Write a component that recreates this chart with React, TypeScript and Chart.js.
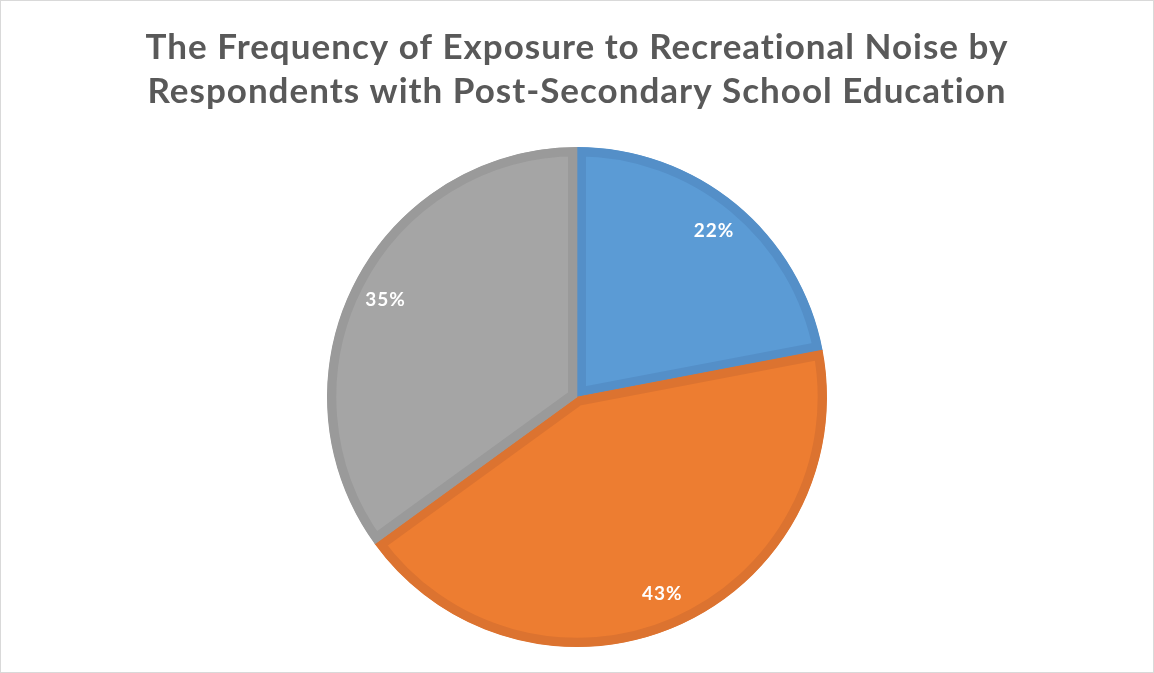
import React, { useEffect, useRef } from "react";
import { Chart, registerables } from "chart.js";

Chart.register(...registerables);

const titleLines = [
  "The Frequency of Exposure to Recreational Noise by",
  "Respondents with Post-Secondary School Education",
];
const categories = ["Often", "Sometimes", "Rarely"];
const values = [22, 43, 35];
const fillColors = ["#5b9bd5", "#ed7d31", "#a5a5a5"];
const borderColors = ["#548fc8", "#dc7330", "#9a9a9a"];

const titlePlugin = {
  id: "customTitle",
  afterDraw(chart: any) {
    const ctx = chart.ctx;
    ctx.save();
    ctx.fillStyle = "#595959";
    ctx.font = "bold 35px Lato";
    try {
      (ctx as any).letterSpacing = "1px";
    } catch (e) {}
    ctx.textAlign = "center";
    ctx.textBaseline = "alphabetic";
    const cx = chart.width / 2;
    titleLines.forEach((line, i) => {
      ctx.fillText(line, cx, 59 + i * 43.5);
    });
    ctx.restore();
  },
};

const labelPlugin = {
  id: "sliceLabels",
  afterDatasetsDraw(chart: any) {
    const ctx = chart.ctx;
    const meta = chart.getDatasetMeta(0);
    const data = chart.data.datasets[0].data as number[];
    const total = data.reduce((a, b) => a + b, 0);
    ctx.save();
    ctx.fillStyle = "#ffffff";
    ctx.font = "bold 19px Lato";
    try {
      (ctx as any).letterSpacing = "1px";
    } catch (e) {}
    ctx.textAlign = "center";
    ctx.textBaseline = "middle";
    meta.data.forEach((arc: any, i: number) => {
      const p = arc.getProps(["x", "y", "startAngle", "endAngle", "outerRadius"], true);
      const mid = (p.startAngle + p.endAngle) / 2;
      const r = p.outerRadius * 0.86;
      const x = p.x + Math.cos(mid) * r;
      const y = p.y + Math.sin(mid) * r;
      ctx.fillText(Math.round((data[i] / total) * 100) + "%", x, y);
    });
    ctx.restore();
  },
};

export default function App() {
  const ref = useRef<HTMLCanvasElement>(null);
  useEffect(() => {
    if (!ref.current) return;
    const chart = new Chart(ref.current, {
      type: "pie",
      data: {
        labels: categories,
        datasets: [
          {
            data: values,
            backgroundColor: fillColors,
            borderColor: borderColors,
            borderWidth: 9,
            borderAlign: "inner",
          } as any,
        ],
      },
      options: {
        responsive: false,
        animation: false,
        layout: { padding: { top: 147, bottom: 26 } },
        plugins: {
          legend: { display: false },
          tooltip: { enabled: false },
          title: { display: false },
        },
      },
      plugins: [labelPlugin, titlePlugin],
    });
    return () => chart.destroy();
  }, []);
  return (
    <div style={{ position: "fixed", left: 0, top: 0, width: 1154, height: 673, background: "#fff" }}>
      <canvas ref={ref} width={1154} height={673} style={{ display: "block" }} />
      <div
        style={{
          position: "absolute",
          left: 0,
          top: 0,
          width: 1154,
          height: 673,
          boxSizing: "border-box",
          border: "1px solid #d9d9d9",
          pointerEvents: "none",
        }}
      />
    </div>
  );
}
